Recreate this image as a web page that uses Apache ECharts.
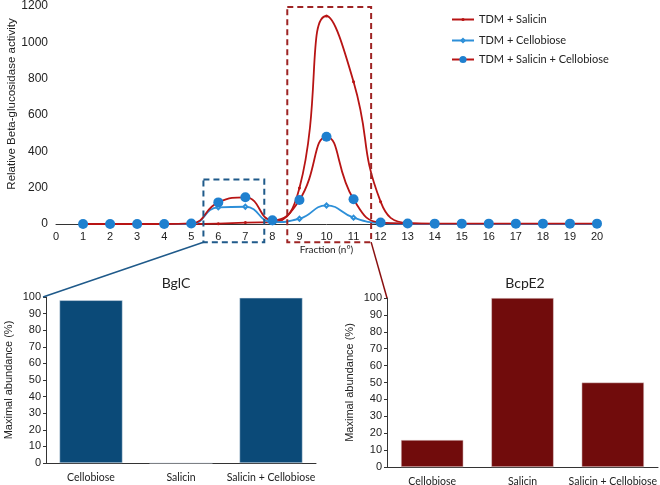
<!DOCTYPE html>
<html><head><meta charset="utf-8">
<script src="https://cdn.jsdelivr.net/npm/echarts@6/dist/echarts.min.js"></script>
<style>html,body{margin:0;padding:0;background:#fff}#c{width:660px;height:485px}</style>
</head><body><div id="c"></div>
<script>
var fractions = [1,2,3,4,5,6,7,8,9,10,11,12,13,14,15,16,17,18,19,20];
var salicin = [0,0,0,0,0,2,8,10,198,1145,783,123,5,1,1,1,1,1,1,1];
var cellobiose = [0,0,0,0,0,92,95,10,29,102,35,5,1,0,0,0,0,0,0,0];
var salicinCellobiose = [0,0,0,0,3,119,147,20,132,480,136,8,3,2,2,2,2,2,2,2];
var barCategories = ['Cellobiose','Salicin','Salicin + Cellobiose'];
var bglC = [98,0,99.5];
var bcpE2 = [16,100,50];

function pairs(ys){return fractions.map(function(f,i){return [f,ys[i]];});}
var numFont = 'Liberation Sans';
var txtFont = 'Lato';
var legText = {fontFamily:txtFont,fontSize:11,color:'#222'};
var chart = echarts.init(document.getElementById('c'));
var option = {
  animation:false,
  backgroundColor:'#fff',
  title:[
    {text:'BglC',left:171,top:271,textAlign:'center',textStyle:{fontFamily:txtFont,fontSize:14,fontWeight:'normal',color:'#222'}},
    {text:'BcpE2',left:520,top:271,textAlign:'center',textStyle:{fontFamily:txtFont,fontSize:14,fontWeight:'normal',color:'#222'}}
  ],
  legend:[
    {left:446,top:9,itemWidth:22,itemHeight:4,textStyle:legText,data:['TDM + Salicin']},
    {left:446,top:30,itemWidth:22,itemHeight:4,textStyle:legText,data:['TDM + Cellobiose']},
    {left:446,top:49,itemWidth:22,itemHeight:9,textStyle:legText,data:['TDM + Salicin + Cellobiose']}
  ],
  grid:[
    {left:56,top:6,width:541,height:218,outerBoundsMode:'none',containLabel:false},
    {left:46,top:297,width:270,height:166,outerBoundsMode:'none',containLabel:false},
    {left:387,top:298,width:271,height:169,outerBoundsMode:'none',containLabel:false}
  ],
  xAxis:[
    {gridIndex:0,type:'value',min:0,max:20,interval:1,
     name:'Fraction (n°)',nameLocation:'middle',nameGap:21,
     nameTextStyle:{fontFamily:txtFont,fontSize:10,color:'#222'},
     axisLine:{lineStyle:{color:'#333',width:1}},axisTick:{show:false},splitLine:{show:false},
     axisLabel:{fontFamily:numFont,fontSize:11,color:'#222',margin:7}},
    {gridIndex:1,type:'category',data:barCategories,
     axisLine:{lineStyle:{color:'#333'}},axisTick:{length:4,lineStyle:{color:'#333'}},
     axisLabel:{interval:0,fontFamily:txtFont,fontSize:10.5,color:'#222',margin:9}},
    {gridIndex:2,type:'category',data:barCategories,
     axisLine:{lineStyle:{color:'#333'}},axisTick:{length:4,lineStyle:{color:'#333'}},
     axisLabel:{interval:0,fontFamily:txtFont,fontSize:10.5,color:'#222',margin:9}}
  ],
  yAxis:[
    {gridIndex:0,type:'value',min:0,max:1200,interval:200,
     axisLine:{show:false},axisTick:{show:false},splitLine:{show:false},
     axisLabel:{fontFamily:numFont,fontSize:12,color:'#222',margin:8,formatter:function(v){return String(v);}}},
    {gridIndex:1,type:'value',min:0,max:100,interval:10,
     name:'Maximal abundance (%)',nameLocation:'middle',nameGap:32,
     nameTextStyle:{fontFamily:numFont,fontSize:11,color:'#222'},
     axisLine:{show:true,lineStyle:{color:'#333'}},axisTick:{show:true,length:3,lineStyle:{color:'#333'}},splitLine:{show:false},
     axisLabel:{fontFamily:numFont,fontSize:11,color:'#222',margin:5}},
    {gridIndex:2,type:'value',min:0,max:100,interval:10,
     name:'Maximal abundance (%)',nameLocation:'middle',nameGap:32,
     nameTextStyle:{fontFamily:numFont,fontSize:11,color:'#222'},
     axisLine:{show:true,lineStyle:{color:'#333'}},axisTick:{show:true,length:3,lineStyle:{color:'#333'}},splitLine:{show:false},
     axisLabel:{fontFamily:numFont,fontSize:11,color:'#222',margin:5}}
  ],
  series:[
    {name:'TDM + Salicin',type:'line',xAxisIndex:0,yAxisIndex:0,smooth:0.5,data:pairs(salicin),
     symbol:'circle',symbolSize:3,lineStyle:{color:'#b81414',width:1.8},itemStyle:{color:'#b81414'}},
    {name:'TDM + Cellobiose',type:'line',xAxisIndex:0,yAxisIndex:0,smooth:0.5,data:pairs(cellobiose),
     symbol:'emptyDiamond',symbolSize:4,lineStyle:{color:'#2d8fd8',width:1.8},itemStyle:{color:'#2d8fd8',borderColor:'#2d8fd8'}},
    {name:'TDM + Salicin + Cellobiose',type:'line',xAxisIndex:0,yAxisIndex:0,smooth:0.5,data:pairs(salicinCellobiose),
     symbol:'circle',symbolSize:10,lineStyle:{color:'#b81414',width:1.8},itemStyle:{color:'#1f80cf'}},
    {type:'bar',xAxisIndex:1,yAxisIndex:1,data:bglC,barWidth:'70%',itemStyle:{color:'#0b4a78',borderColor:'#dfe6ee',borderWidth:0.5}},
    {type:'bar',xAxisIndex:2,yAxisIndex:2,data:bcpE2,barWidth:'69%',itemStyle:{color:'#710c0c',borderColor:'#e8dede',borderWidth:0.5}}
  ]
};
chart.setOption(option);

// dashed boxes and connector lines placed via data-to-pixel conversion
var b1 = chart.convertToPixel({gridIndex:0},[5.45,245]);
var b2 = chart.convertToPixel({gridIndex:0},[7.7,-100]);
var r1 = chart.convertToPixel({gridIndex:0},[8.55,1195]);
var r2 = chart.convertToPixel({gridIndex:0},[11.65,-100]);
var bl = chart.convertToPixel({xAxisIndex:1,yAxisIndex:1},[0,100]);
var br = chart.convertToPixel({xAxisIndex:2,yAxisIndex:2},[0,100]);
var leftTop1 = [46, bl[1]];
var leftTop2 = [387, br[1]];
chart.setOption({graphic:[
  {type:'text',x:12,y:104,rotation:Math.PI/2,
   style:{text:'Relative Beta-glucosidase activity',fontFamily:numFont,fontSize:11.5,fill:'#222',align:'center',verticalAlign:'middle'}},
  {type:'rect',shape:{x:b1[0],y:b1[1],width:b2[0]-b1[0],height:b2[1]-b1[1]},
   style:{fill:'none',stroke:'#1f5a8a',lineWidth:2,lineDash:[6,4]},z:10},
  {type:'rect',shape:{x:r1[0],y:r1[1],width:r2[0]-r1[0],height:r2[1]-r1[1]},
   style:{fill:'none',stroke:'#9e2424',lineWidth:2,lineDash:[6,4]},z:10},
  {type:'line',shape:{x1:b1[0],y1:b2[1],x2:leftTop1[0]-3,y2:leftTop1[1]},style:{stroke:'#1f5a8a',lineWidth:1.5},z:10},
  {type:'line',shape:{x1:r2[0],y1:r2[1],x2:leftTop2[0],y2:leftTop2[1]},style:{stroke:'#8a1010',lineWidth:1.5},z:10}
]});
</script></body></html>
